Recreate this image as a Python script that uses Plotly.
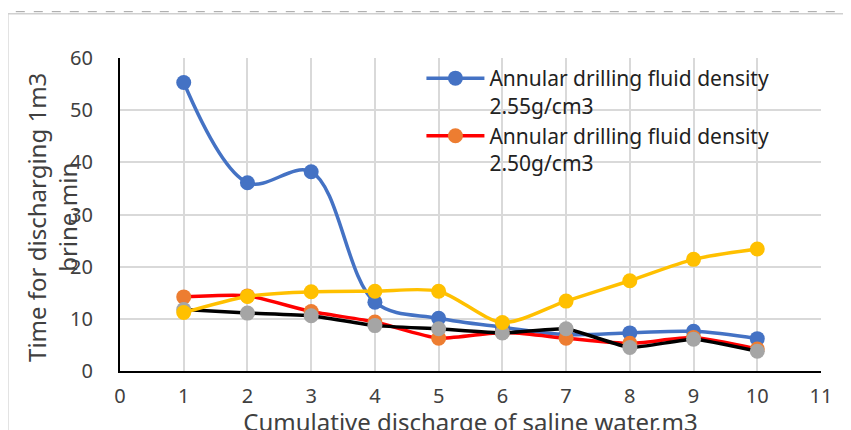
import plotly.graph_objects as go

# cumulative discharge of saline water, m3
discharge = [1, 2, 3, 4, 5, 6, 7, 8, 9, 10]

# time for discharging 1 m3 brine, min
density_255 = [55.3, 36.1, 38.2, 13.2, 10.1, 8.4, 7.0, 7.3, 7.6, 6.2]
density_250 = [14.2, 14.4, 11.4, 9.4, 6.3, 7.4, 6.3, 5.3, 6.4, 4.2]
series_grey = [11.8, 11.1, 10.6, 8.7, 8.1, 7.3, 8.1, 4.5, 6.1, 3.8]
series_yellow = [11.2, 14.3, 15.2, 15.3, 15.3, 9.3, 13.4, 17.3, 21.4, 23.4]

x_ticks = list(range(0, 12))
y_ticks = [0, 10, 20, 30, 40, 50, 60]

FONT = "Noto Sans"
TXT = "#404040"

fig = go.Figure()

fig.add_trace(go.Scatter(x=discharge, y=density_255, mode="lines+markers",
                         name="Annular drilling fluid density<br>2.55g/cm3",
                         line=dict(color="#4472C4", width=3.5, shape="spline", smoothing=1),
                         marker=dict(color="#4472C4", size=15)))
fig.add_trace(go.Scatter(x=discharge, y=density_250, mode="lines+markers",
                         name="Annular drilling fluid density<br>2.50g/cm3",
                         line=dict(color="#FF0000", width=3.5, shape="spline", smoothing=0.6),
                         marker=dict(color="#ED7D31", size=15)))
fig.add_trace(go.Scatter(x=discharge, y=series_grey, mode="lines+markers",
                         showlegend=False,
                         line=dict(color="#000000", width=3.5, shape="spline", smoothing=0.4),
                         marker=dict(color="#A5A5A5", size=15)))
fig.add_trace(go.Scatter(x=discharge, y=series_yellow, mode="lines+markers",
                         showlegend=False,
                         line=dict(color="#FFC000", width=3.5, shape="spline", smoothing=0.8),
                         marker=dict(color="#FFC000", size=15)))

fig.update_layout(
    width=851, height=430,
    margin=dict(l=112, r=38, t=50, b=67),
    paper_bgcolor="white", plot_bgcolor="white",
    font=dict(family=FONT, color=TXT, size=20),
    legend=dict(x=0.43, y=1.0, xanchor="left", yanchor="top", valign="top",
                bgcolor="rgba(0,0,0,0)", font=dict(size=21, color="#222"),
                itemwidth=58, tracegroupgap=0),
    xaxis=dict(range=[0, 11], tickvals=x_ticks, showgrid=True, gridcolor="#d9d9d9",
               gridwidth=1.5, zeroline=False, showline=True, linecolor="black",
               linewidth=2, ticks="", ticklabelstandoff=6, automargin=False,
               tickfont=dict(size=20, color=TXT),
               title=dict(text="Cumulative discharge of saline water,m3",
                          font=dict(size=24, color=TXT), standoff=2)),
    yaxis=dict(range=[0, 60], tickvals=y_ticks, showgrid=True, gridcolor="#d9d9d9",
               gridwidth=1.5, zeroline=False, showline=True, linecolor="black",
               linewidth=2, ticks="", ticklabelstandoff=21, automargin=False,
               tickfont=dict(size=20, color=TXT)),
    annotations=[dict(text="Time for discharging 1m3<br>brine,min", textangle=-90,
                      xref="paper", yref="paper", x=-0.097, y=0.489,
                      xanchor="center", yanchor="middle", showarrow=False,
                      font=dict(size=24, color=TXT))],
)

# chart-area border and dashed top edge
fig.add_shape(type="rect", xref="paper", yref="paper", x0=-0.16, x1=1.037,
              y0=-0.3, y1=1.141, line=dict(color="#d0d0d0", width=1.5), layer="below")
fig.add_shape(type="line", xref="paper", yref="paper", x0=-0.2, x1=1.1,
              y0=1.148, y1=1.148, line=dict(color="#a0a0a0", width=1, dash="dash"))

fig.write_html("out.html")
